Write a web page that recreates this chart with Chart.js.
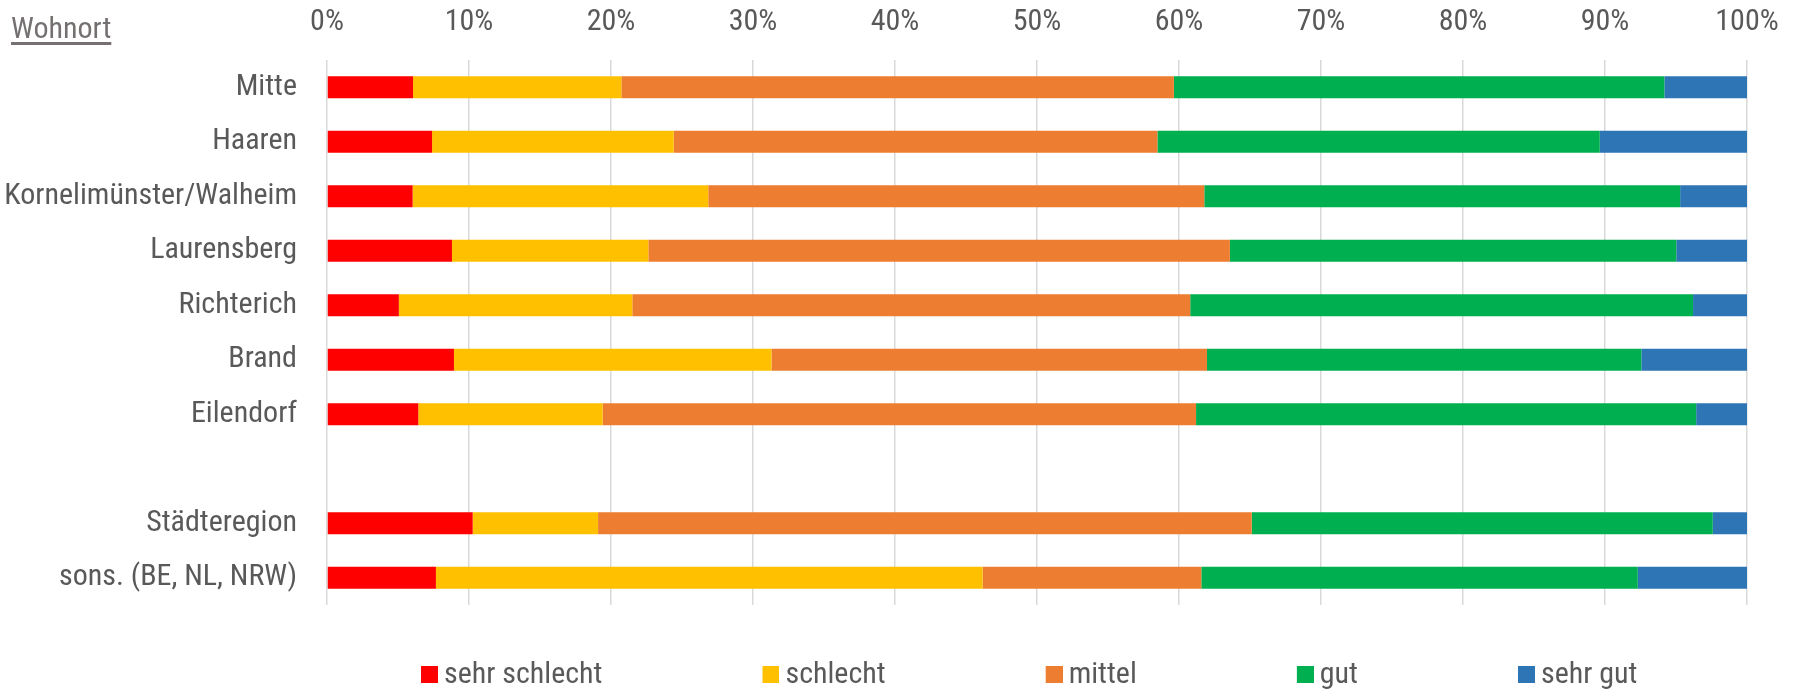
<!DOCTYPE html>
<html><head><meta charset="utf-8">
<script src="https://cdn.jsdelivr.net/npm/chart.js@4.4.1/dist/chart.umd.min.js"></script>
<style>
html,body{margin:0;padding:0;background:#fff;}
#wrap{position:relative;width:1799px;height:691px;}
#title{position:absolute;left:11px;top:12px;font-size:30px;font-family:'Liberation Sans Narrow','Arial Narrow','Roboto Condensed',sans-serif;color:#767171;text-decoration:underline;text-underline-offset:4px;line-height:31px;}
</style></head><body>
<div id="wrap"><canvas id="c" width="1799" height="691"></canvas><div id="title">Wohnort</div></div>
<script>
// ---- data ----
const categories = ['Mitte','Haaren','Kornelimünster/Walheim','Laurensberg','Richterich','Brand','Eilendorf','','Städteregion','sons. (BE, NL, NRW)'];
const seriesNames = ['sehr schlecht','schlecht','mittel','gut','sehr gut'];
const sehrSchlecht = [6.06, 7.40, 6.03, 8.80, 5.06, 8.94, 6.43, null, 10.26, 7.67];
const schlecht     = [14.67,17.02,20.82,13.83,16.44,22.36,12.98,null, 8.83,38.50];
const mittel       = [38.91,34.06,34.93,40.95,39.29,30.67,41.79,null,46.03,15.40];
const gut          = [34.54,31.15,33.51,31.44,35.41,30.59,35.22,null,32.47,30.74];
const sehrGut      = [5.82,10.37, 4.71, 4.98, 3.80, 7.44, 3.58,null, 2.41, 7.69];
const seriesColors = ['#FF0000','#FFC000','#ED7D31','#00B050','#2E75B6'];
const tickSuffix = '%';

// ---- styling / layout ----
const FAMILY = "'Liberation Sans Narrow', 'Arial Narrow', 'Roboto Condensed', sans-serif";
const FS = 30;
const TXT = '#595959';
const LEG_PAD = 55, BOXW = 113, PAD_R = 52, AREA_LEFT = 327, FIRST_SQ = 421;

const mctx = document.createElement('canvas').getContext('2d');
mctx.font = FS + 'px ' + FAMILY;
const sumText = seriesNames.reduce((s, n) => s + mctx.measureText(n).width, 0);
const LW = seriesNames.length * (BOXW + FS / 2 + LEG_PAD) + sumText;
const PAD_L = 2 * (FIRST_SQ - BOXW + 8) - LEG_PAD - (1799 - PAD_R) + LW;

function marker(color) {
  const c = document.createElement('canvas');
  c.width = BOXW + 18; c.height = 18;
  const x = c.getContext('2d');
  x.fillStyle = color;
  x.fillRect(BOXW + 1, 0, 17, 17);
  return c;
}
const markers = seriesColors.map(marker);

const seriesData = [sehrSchlecht, schlecht, mittel, gut, sehrGut];
const datasets = seriesNames.map((n, i) => ({
  label: n,
  data: seriesData[i],
  backgroundColor: seriesColors[i],
  borderWidth: 0,
  barPercentage: 0.404,
  categoryPercentage: 1
}));

// let the category labels use the full width left of the plot
const unclipY = { id: 'unclipY', afterLayout(chart) { chart.scales.y.left = 0; } };

new Chart(document.getElementById('c'), {
  type: 'bar',
  data: { labels: categories, datasets },
  plugins: [unclipY],
  options: {
    indexAxis: 'y',
    responsive: false,
    animation: false,
    devicePixelRatio: 1,
    layout: { padding: { left: PAD_L, right: PAD_R, top: 4, bottom: 0 } },
    scales: {
      x: {
        position: 'top',
        stacked: true,
        min: 0, max: 100,
        afterFit: (a) => { a.height = 56; },
        grid: { color: '#d9d9d9', lineWidth: 1.5, drawTicks: false },
        border: { display: false },
        ticks: { stepSize: 10, padding: 20, maxRotation: 0, autoSkip: false,
                 color: TXT, font: { family: FAMILY, size: FS },
                 callback: (v) => v + tickSuffix }
      },
      y: {
        stacked: true,
        afterFit: (a) => { a.width = AREA_LEFT - PAD_L; },
        grid: { display: false, drawTicks: false },
        border: { display: false },
        ticks: { padding: 30, autoSkip: false, color: TXT, font: { family: FAMILY, size: FS } }
      }
    },
    plugins: {
      tooltip: { enabled: false },
      legend: {
        position: 'bottom',
        maxHeight: 86,
        labels: {
          usePointStyle: true,
          pointStyleWidth: BOXW,
          padding: LEG_PAD,
          color: TXT,
          font: { family: FAMILY, size: FS },
          generateLabels: (chart) => {
            const items = Chart.defaults.plugins.legend.labels.generateLabels(chart);
            items.forEach((it, i) => { it.pointStyle = markers[i]; it.fontColor = TXT; });
            return items;
          }
        }
      }
    }
  }
});
</script>
</body></html>
